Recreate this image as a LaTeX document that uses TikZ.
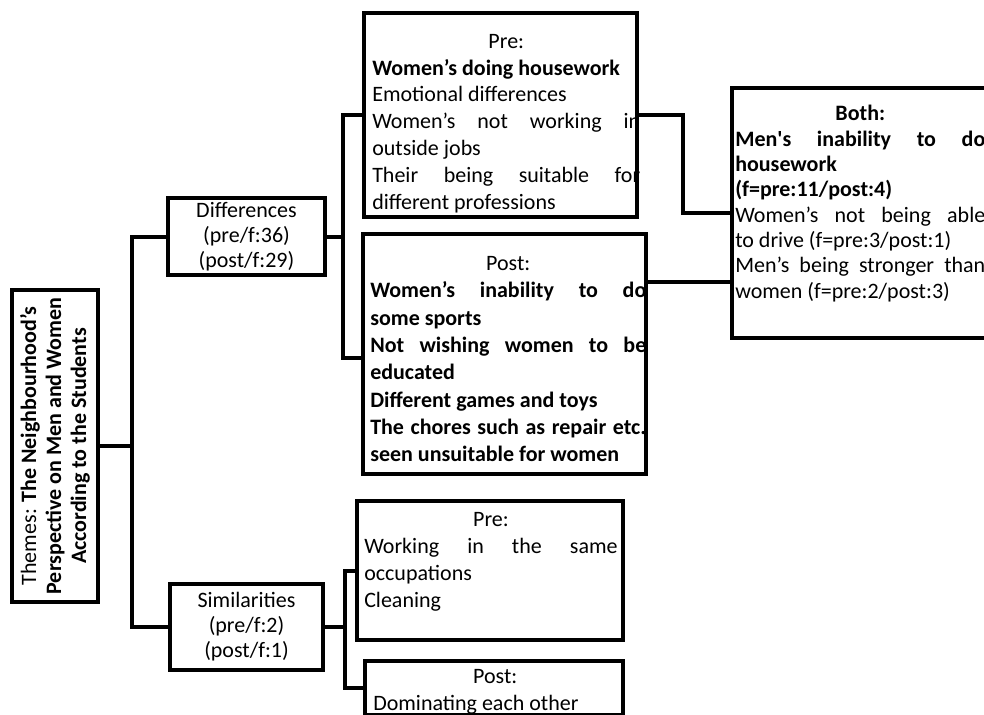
\documentclass[tikz,border=0pt]{standalone}
\usepackage{fontspec}
\setmainfont{Carlito}
\newcommand\fszA{\fontsize{16.5pt}{20.1pt}\selectfont}
\newcommand\fszB{\fontsize{16.5pt}{20.25pt}\selectfont}
\newcommand\fszE{\fontsize{16.5pt}{20.5pt}\selectfont}
\newcommand\fszC{\fontsize{16.5pt}{19pt}\selectfont}
\newcommand\fszD{\fontsize{16.5pt}{18.75pt}\selectfont}
\setlength\parindent{0pt}
\begin{document}
\begin{tikzpicture}[x=0.75pt,y=-0.75pt,
  box/.style={draw,line width=3pt,inner sep=0pt,outer sep=0pt},
  conn/.style={line width=3pt},
  txt/.style={inner sep=0pt,anchor=north west,align=justify}]
\useasboundingbox (0,0) rectangle (984,714);
\clip (0,0) rectangle (984,714);

% boxes
\node[box, rotate=90, minimum width=234pt, minimum height=64.5pt, align=center, font=\fszD] (theme) at (55,446)
  {Themes: \textbf{The Neighbourhood’s}\\ \textbf{Perspective on Men and Women}\\ \textbf{According to the Students}};
\node[box, minimum width=117.75pt, minimum height=57.75pt, align=center, font=\fszD] (diff) at (246.5,236.5)
  {Differences\\(pre/f:36)\\(post/f:29)};
\node[box, minimum width=114.75pt, minimum height=64.5pt, align=center, font=\fszD] (sim) at (246.5,627)
  {Similarities\\(pre/f:2)\\(post/f:1)};
\node[box, anchor=north west, minimum width=204.75pt, minimum height=153pt] (dpre) at (364,13) {};
\node[box, anchor=north west, minimum width=212.25pt, minimum height=180pt] (dpost) at (363,234) {};
\node[box, anchor=north west, minimum width=198.75pt, minimum height=187.5pt] (both) at (732,88) {};
\node[box, anchor=north west, minimum width=199.5pt, minimum height=104.25pt] (simpre) at (357,501) {};
\node[box, anchor=north west, minimum width=193.5pt, minimum height=40.5pt] (simpost) at (365,661) {};

% texts
\node[txt, text width=201pt, font=\fszA] (dpreT) at (372,34) {%
{\centering Pre:\par}
\textbf{Women’s doing housework}\par
Emotional differences\par
Women’s not working in\linebreak outside jobs\par
Their being suitable for\linebreak different professions\par};

\node[txt, text width=207pt, font=\fszE] (dpostT) at (370,256) {%
{\centering Post:\par}
\textbf{Women’s inability to do\linebreak some sports}\par
\textbf{Not wishing women to be\linebreak educated}\par
\textbf{Different games and toys}\par
\textbf{The chores such as repair etc.\linebreak seen unsuitable for women}\par};

\node[txt, text width=187.5pt, font=\fszC] (bothT) at (735,105) {%
{\centering\textbf{Both:}\par}
\textbf{Men\textquotesingle s inability to do\linebreak housework}\par
\textbf{(f=pre:11/post:4)}\par
Women’s not being able\linebreak to drive (f=pre:3/post:1)\par
Men’s being stronger than\linebreak women (f=pre:2/post:3)\par};

\node[txt, text width=190pt, font=\fszB] (simpreT) at (364,512) {%
{\centering Pre:\par}
Working in the same\linebreak occupations\par
Cleaning\par};

\node[txt, text width=183pt, font=\fszB] (simpostT) at (373,669) {%
{\centering Post:\par}
Dominating each other\par};

% connectors
\coordinate (j1) at (132,447);
\draw[conn] (theme.south) -- (theme.south -| j1);
\draw[conn] (diff.west) -| (j1) |- (sim.west);

\coordinate (j2) at (343,237);
\draw[conn] (diff.east) -- (diff.east -| j2);
\draw[conn] (dpre.west) -| (j2) |- ([yshift=-3pt]dpost.west);

\coordinate (j3) at (683,116);
\draw[conn] (dpre.east) -| (j3) |- (both.west);
\coordinate (r2) at (0,282);
\draw[conn] (dpost.east |- r2) -- (both.west |- r2);

\coordinate (j4) at (345,626);
\draw[conn] (sim.east) -- (sim.east -| j4);
\draw[conn] (simpre.west) -| (j4) |- (simpost.west);
\end{tikzpicture}
\end{document}
